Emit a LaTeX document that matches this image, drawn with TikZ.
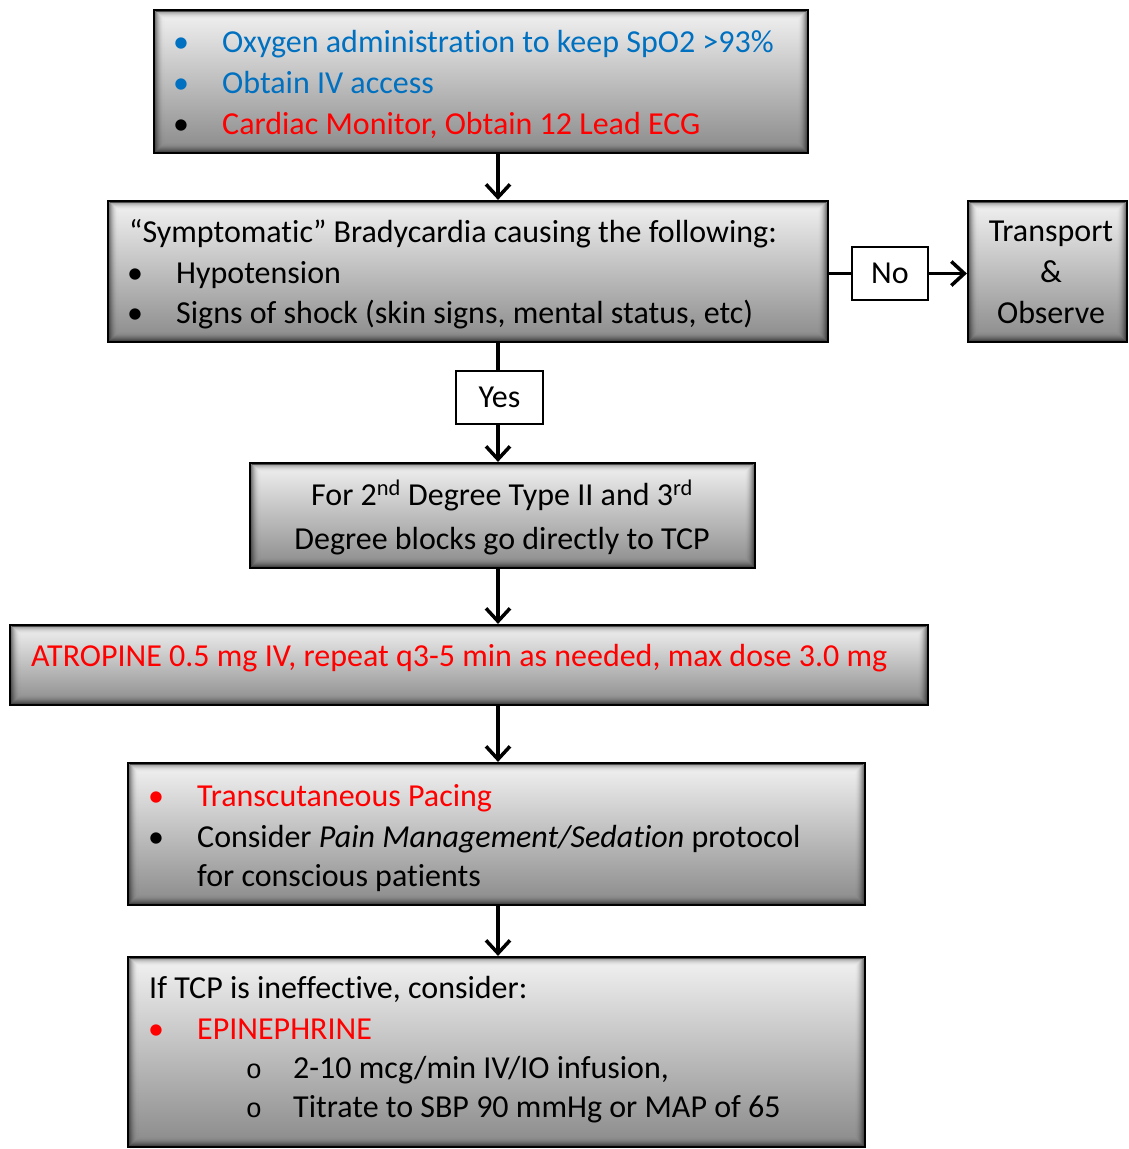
\documentclass[tikz,border=0pt]{standalone}
\usepackage{fontspec}
\setmainfont{Carlito}[RawFeature={-liga;-clig;-dlig}]
\newfontfamily\ringfont{Liberation Mono}
\usetikzlibrary{arrows.meta}
\definecolor{medblue}{HTML}{0070C0}
\definecolor{alertred}{HTML}{FF0000}
\newcommand{\bodysize}{\fontsize{32}{41}\selectfont}
\begin{document}
\begin{tikzpicture}[x=1pt,y=-1pt,
  panel/.style={draw=black, line width=2.2pt, inner sep=0pt,
    top color=white!95!black, bottom color=black!46,
    path picture={
      \foreach \i in {1,...,9}{
        \pgfmathsetmacro\op{0.6*(1-\i/10)^2}
        \draw[black, line width=1.2pt, draw opacity=\op]
          ([shift={(\i*1.1pt,-\i*0.9pt)}]path picture bounding box.north west)
          rectangle ([shift={(-\i*1.1pt,\i*1.1pt)}]path picture bounding box.south east);
      }}},
  tag/.style={draw=black, line width=1.5pt, fill=white, inner sep=0pt},
  txt/.style={anchor=base west, inner sep=0pt, font=\bodysize},
  ctxt/.style={anchor=base, inner sep=0pt, font=\bodysize},
  dot/.style={anchor=base, inner sep=0pt, font=\bodysize},
  link/.style={line width=3.2pt},
  arr/.style={line width=3.2pt, -{Straight Barb[length=13pt,width=24pt,line width=3.5pt]}}
]
\useasboundingbox (0,0) rectangle (1128,1149);

% guide line for the vertical flow
\coordinate (spine) at (498,0);

% ---- boxes ----
\node[panel, minimum width=654, minimum height=143] (oxy)   at (481,81.5)   {};
\node[panel, minimum width=720, minimum height=141] (symp)  at (468,271.5)  {};
\node[panel, minimum width=159, minimum height=141] (trans) at (1047.5,271.5) {};
\node[panel, minimum width=505, minimum height=105] (blk)   at (502.5,515.5) {};
\node[panel, minimum width=918, minimum height=80]  (atro)  at (469,665)    {};
\node[panel, minimum width=737, minimum height=142] (tcp)   at (496.5,834)  {};
\node[panel, minimum width=737, minimum height=190] (epi)   at (496.5,1052) {};

% ---- first box ----
\node[dot, text=medblue] (oxyb1) at (181,52) {•};
\node[txt, text=medblue] (oxyt1) at (222,52) {Oxygen administration to keep SpO2 >93\%};
\node[dot, text=medblue] (oxyb2) at (181,93) {•};
\node[txt, text=medblue] (oxyt2) at (222,93) {Obtain IV access};
\node[dot, text=black]   (oxyb3) at (181,134) {•};
\node[txt, text=alertred] (oxyt3) at (222,134) {Cardiac Monitor, Obtain 12 Lead ECG};

% ---- symptomatic box ----
\node[txt] (sympt0) at (129,242) {“Symptomatic” Bradycardia causing the following:};
\node[dot] (sympb1) at (135,283) {•};
\node[txt] (sympt1) at (176,283) {Hypotension};
\node[dot] (sympb2) at (135,323) {•};
\node[txt] (sympt2) at (176,323) {Signs of shock (skin signs, mental status, etc)};

% ---- transport box ----
\node[ctxt] (trans1) at (1051,241) {Transport};
\node[ctxt] (trans2) at (1051,282) {\&};
\node[ctxt] (trans3) at (1051,323) {Observe};

% ---- block box ----
\node[ctxt] (blk1) at (502,505) {For 2\textsuperscript{nd} Degree Type II and 3\textsuperscript{rd}};
\node[ctxt] (blk2) at (502,549) {Degree blocks go directly to TCP};

% ---- atropine box ----
\node[txt, text=alertred] (atro1) at (31,666) {ATROPINE 0.5 mg IV, repeat q3-5 min as needed, max dose 3.0 mg};

% ---- pacing box ----
\node[dot, text=alertred] (tcpb1) at (156,806) {•};
\node[txt, text=alertred] (tcpt1) at (197,806) {Transcutaneous Pacing};
\node[dot] (tcpb2) at (156,847) {•};
\node[txt] (tcpt2) at (197,847) {Consider \textit{Pain Management/Sedation} protocol};
\node[txt] (tcpt3) at (197,886) {for conscious patients};

% ---- epinephrine box ----
\node[txt] (epit0) at (149,998) {If TCP is ineffective, consider:};
\node[dot, text=alertred] (epib1) at (156,1039) {•};
\node[txt, text=alertred] (epit1) at (197,1039) {EPINEPHRINE};
\node[dot, font=\ringfont\fontsize{27}{41}\selectfont] (epib2) at (254,1078) {o};
\node[txt] (epit2) at (293,1078) {2-10 mcg/min IV/IO infusion,};
\node[dot, font=\ringfont\fontsize{27}{41}\selectfont] (epib3) at (254,1117) {o};
\node[txt] (epit3) at (293,1117) {Titrate to SBP 90 mmHg or MAP of 65};

% ---- decision labels ----
\node[tag, minimum width=76, minimum height=53, font=\bodysize] (no)  at (890,273.5) {No};
\node[tag, minimum width=87, minimum height=53, font=\bodysize] (yes) at (499.5,397.5) {Yes};

% ---- connectors ----
\draw[arr]  (spine |- oxy.south)  -- (spine |- symp.north);
\draw[link] (symp.east |- no.west) -- (no.west);
\draw[arr]  (no.east) -- (trans.west |- no.east);
\draw[link] (spine |- symp.south) -- (spine |- yes.north);
\draw[arr]  (spine |- yes.south)  -- (spine |- blk.north);
\draw[arr]  (spine |- blk.south)  -- (spine |- atro.north);
\draw[arr]  (spine |- atro.south) -- (spine |- tcp.north);
\draw[arr]  (spine |- tcp.south)  -- (spine |- epi.north);
\end{tikzpicture}
\end{document}
